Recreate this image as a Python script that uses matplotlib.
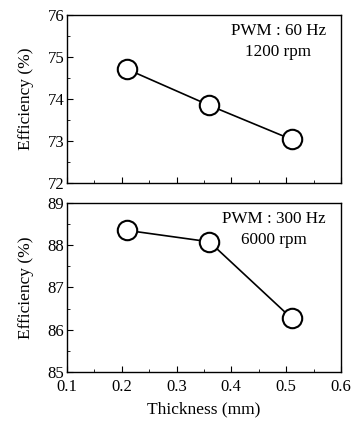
import numpy as np
import matplotlib.pyplot as plt
from matplotlib.ticker import MultipleLocator

plt.rcParams['font.family'] = 'Liberation Serif'
plt.rcParams['font.size'] = 12

# data
thickness = [0.21, 0.36, 0.51]
eff_60hz = [74.71, 73.85, 73.04]
eff_300hz = [88.35, 88.08, 86.27]

labels_60 = "PWM : 60 Hz\n1200 rpm"
labels_300 = "PWM : 300 Hz\n6000 rpm"

fig = plt.figure(figsize=(3.54, 4.29), dpi=100)
ax1 = fig.add_axes([0.189, 0.573, 0.774, 0.392])
ax2 = fig.add_axes([0.189, 0.133, 0.774, 0.394])


def style(ax, ylo, yhi):
    ax.set_xlim(0.1, 0.6)
    ax.set_ylim(ylo, yhi)
    ax.xaxis.set_major_locator(MultipleLocator(0.1))
    ax.xaxis.set_minor_locator(MultipleLocator(0.05))
    ax.yaxis.set_major_locator(MultipleLocator(1))
    ax.yaxis.set_minor_locator(MultipleLocator(0.5))
    ax.tick_params(which='both', direction='in', labelsize=12)
    ax.tick_params(axis='y', pad=2)
    ax.tick_params(axis='x', pad=5)
    ax.tick_params(which='major', length=4)
    ax.tick_params(which='minor', length=2)
    ax.set_ylabel("Efficiency (%)", fontsize=12.5)
    for s in ax.spines.values():
        s.set_linewidth(1.0)


for ax, eff, txt, lo, hi in [(ax1, eff_60hz, labels_60, 72, 76),
                             (ax2, eff_300hz, labels_300, 85, 89)]:
    style(ax, lo, hi)
    ax.plot(thickness, eff, color='k', lw=1.2, marker='o', ms=14,
            mfc='white', mec='k', mew=1.5)
    ax.text(0.945, 0.95, txt, transform=ax.transAxes, ha='right', va='top',
            fontsize=12.3, multialignment='center', linespacing=1.35)

ax1.tick_params(labelbottom=False)
ax2.set_xlabel("Thickness (mm)", fontsize=12.5, labelpad=5)
ax1.yaxis.set_label_coords(-0.12, 0.5)
ax2.yaxis.set_label_coords(-0.12, 0.5)

fig.savefig("out.png", dpi=100)
